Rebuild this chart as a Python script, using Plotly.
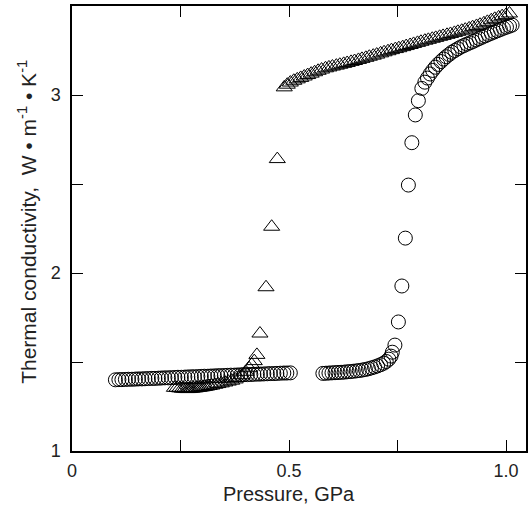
import plotly.graph_objects as go

# ---- circles (one sample) ----
circ_low_x = [0.100, 0.108, 0.115, 0.123, 0.130, 0.138, 0.146, 0.153, 0.161, 0.168,
              0.176, 0.184, 0.191, 0.199, 0.206, 0.214, 0.222, 0.229, 0.237, 0.244,
              0.252, 0.260, 0.267, 0.275, 0.282, 0.290, 0.298, 0.305, 0.313, 0.320,
              0.328, 0.336, 0.343, 0.351, 0.358, 0.366, 0.374, 0.381, 0.389, 0.396,
              0.404, 0.412, 0.419, 0.427, 0.434, 0.442, 0.450, 0.457, 0.465, 0.472,
              0.480, 0.488, 0.495, 0.503]
circ_low_y = [1.400, 1.401, 1.401, 1.402, 1.403, 1.403, 1.404, 1.405, 1.405, 1.406,
              1.407, 1.408, 1.408, 1.409, 1.410, 1.411, 1.411, 1.412, 1.413, 1.414,
              1.414, 1.415, 1.416, 1.417, 1.417, 1.418, 1.419, 1.420, 1.420, 1.421,
              1.422, 1.423, 1.423, 1.424, 1.425, 1.426, 1.426, 1.427, 1.428, 1.429,
              1.429, 1.430, 1.431, 1.432, 1.432, 1.433, 1.434, 1.435, 1.435, 1.436,
              1.437, 1.438, 1.438, 1.439]

circ_mid_x = [0.578, 0.585, 0.592, 0.599, 0.606, 0.613, 0.620, 0.627, 0.634, 0.641,
              0.648, 0.655, 0.662, 0.669, 0.676, 0.683, 0.690, 0.697, 0.704, 0.711,
              0.718, 0.724, 0.730, 0.735, 0.738]
circ_mid_y = [1.436, 1.437, 1.438, 1.439, 1.440, 1.441, 1.442, 1.443, 1.445, 1.446,
              1.448, 1.450, 1.452, 1.455, 1.458, 1.462, 1.467, 1.472, 1.478, 1.485,
              1.493, 1.503, 1.516, 1.533, 1.555]

circ_rise_x = [0.744, 0.752, 0.760, 0.768, 0.775, 0.783, 0.791, 0.798, 0.806, 0.813]
circ_rise_y = [1.595, 1.725, 1.927, 2.196, 2.494, 2.732, 2.888, 2.968, 3.037, 3.072]

circ_top_x = [0.819, 0.825, 0.831, 0.837, 0.843, 0.850, 0.856, 0.862, 0.869, 0.875,
              0.882, 0.889, 0.896, 0.903, 0.910, 0.917, 0.924, 0.931, 0.938, 0.945,
              0.952, 0.959, 0.966, 0.973, 0.980, 0.987, 0.994, 1.001, 1.008, 1.014]
circ_top_y = [3.095, 3.118, 3.138, 3.156, 3.172, 3.188, 3.202, 3.215, 3.228, 3.240,
              3.250, 3.260, 3.270, 3.278, 3.286, 3.293, 3.301, 3.309, 3.317, 3.325,
              3.332, 3.340, 3.347, 3.354, 3.361, 3.368, 3.375, 3.381, 3.387, 3.393]

# ---- triangles (other sample) ----
tri_low_x = [0.236, 0.242, 0.248, 0.254, 0.259, 0.264, 0.268, 0.272, 0.276, 0.280,
             0.284, 0.288, 0.292, 0.296, 0.300, 0.305, 0.310, 0.316, 0.322, 0.329,
             0.336, 0.344, 0.352, 0.360, 0.368, 0.376, 0.384, 0.392, 0.400, 0.408,
             0.414, 0.420, 0.426, 0.433, 0.447, 0.460, 0.473]
tri_low_y = [1.355, 1.355, 1.352, 1.350, 1.350, 1.348, 1.348, 1.350, 1.350, 1.352,
             1.352, 1.355, 1.355, 1.357, 1.358, 1.360, 1.362, 1.365, 1.368, 1.372,
             1.376, 1.380, 1.385, 1.390, 1.395, 1.402, 1.410, 1.425, 1.445, 1.465,
             1.485, 1.505, 1.540, 1.660, 1.920, 2.260, 2.640]

tri_up_x = [0.489, 0.496, 0.503, 0.511, 0.519, 0.527, 0.535, 0.543, 0.551, 0.559,
            0.567, 0.575, 0.584, 0.592, 0.600, 0.609, 0.617, 0.626, 0.634, 0.643,
            0.651, 0.660, 0.668, 0.677, 0.685, 0.694, 0.702, 0.711, 0.719, 0.728,
            0.736, 0.745, 0.753, 0.762, 0.770, 0.779, 0.787, 0.796, 0.804, 0.813,
            0.821, 0.830, 0.838, 0.847, 0.855, 0.864, 0.872, 0.881, 0.889, 0.898,
            0.906, 0.915, 0.923, 0.932, 0.940, 0.949, 0.957, 0.966, 0.974, 0.983,
            0.991, 1.000, 1.008]
tri_up_y = [3.043, 3.058, 3.070, 3.080, 3.088, 3.096, 3.104, 3.112, 3.120, 3.128,
            3.136, 3.143, 3.150, 3.155, 3.160, 3.165, 3.170, 3.175, 3.180, 3.186,
            3.191, 3.197, 3.203, 3.209, 3.215, 3.221, 3.227, 3.234, 3.240, 3.246,
            3.252, 3.258, 3.263, 3.269, 3.275, 3.281, 3.287, 3.293, 3.299, 3.305,
            3.310, 3.316, 3.321, 3.327, 3.332, 3.338, 3.343, 3.349, 3.355, 3.361,
            3.367, 3.374, 3.381, 3.388, 3.395, 3.403, 3.411, 3.420, 3.428, 3.436,
            3.443, 3.450, 3.458]

x_tickvals = [0, 0.25, 0.5, 0.75, 1.0]
x_ticktext = ["0", "", "0.5", "", "1.0"]
y_tickvals = [1, 1.5, 2, 2.5, 3]
y_ticktext = ["1", "", "2", "", "3"]

FONT = "Liberation Sans, Arial, sans-serif"

circ_x = circ_low_x + circ_mid_x + circ_rise_x + circ_top_x
circ_y = circ_low_y + circ_mid_y + circ_rise_y + circ_top_y
tri_x = tri_low_x + tri_up_x
tri_y = tri_low_y + tri_up_y

fig = go.Figure()
fig.add_trace(go.Scatter(
    x=circ_x, y=circ_y, mode="markers",
    marker=dict(symbol="circle-open", size=14, color="black", line=dict(width=1, color="black")),
    showlegend=False, hoverinfo="skip"))
fig.add_trace(go.Scatter(
    x=tri_x, y=tri_y, mode="markers",
    marker=dict(symbol="triangle-up-open", size=14, color="black", line=dict(width=1, color="black")),
    showlegend=False, hoverinfo="skip"))

axis_common = dict(showline=True, linecolor="black", linewidth=1.5, mirror="ticks",
                   ticks="inside", ticklen=11, tickwidth=1, tickcolor="black",
                   showgrid=False, zeroline=False,
                   tickfont=dict(family=FONT, size=18, color="#222"))

fig.update_xaxes(range=[0, 1.046], tickmode="array", tickvals=x_tickvals,
                 ticktext=x_ticktext, ticklabelstandoff=3, **axis_common)
fig.update_yaxes(range=[1, 3.5], tickmode="array", tickvals=y_tickvals,
                 ticktext=y_ticktext, ticklabelstandoff=6, **axis_common)

fig.update_layout(
    width=530, height=509,
    margin=dict(l=72, r=2, t=6, b=58),
    paper_bgcolor="white", plot_bgcolor="white",
    font=dict(family=FONT, color="#222"),
    annotations=[
        dict(text="Pressure, GPa", xref="x", yref="paper", x=0.5, y=0,
             yshift=-43, xanchor="center", yanchor="middle", showarrow=False,
             font=dict(family=FONT, size=20, color="#222")),
        dict(text="Thermal conductivity,  W \u2022 m<sup>-1</sup> \u2022 K<sup>-1</sup>",
             xref="paper", yref="paper", x=0, xshift=-45, y=0.515,
             textangle=-90, xanchor="center", yanchor="middle", showarrow=False,
             font=dict(family=FONT, size=21, color="#222")),
    ],
)

fig.write_html("out.html", config={"displayModeBar": False},
               post_script="document.body.style.margin='0';document.body.style.overflow='hidden';")
